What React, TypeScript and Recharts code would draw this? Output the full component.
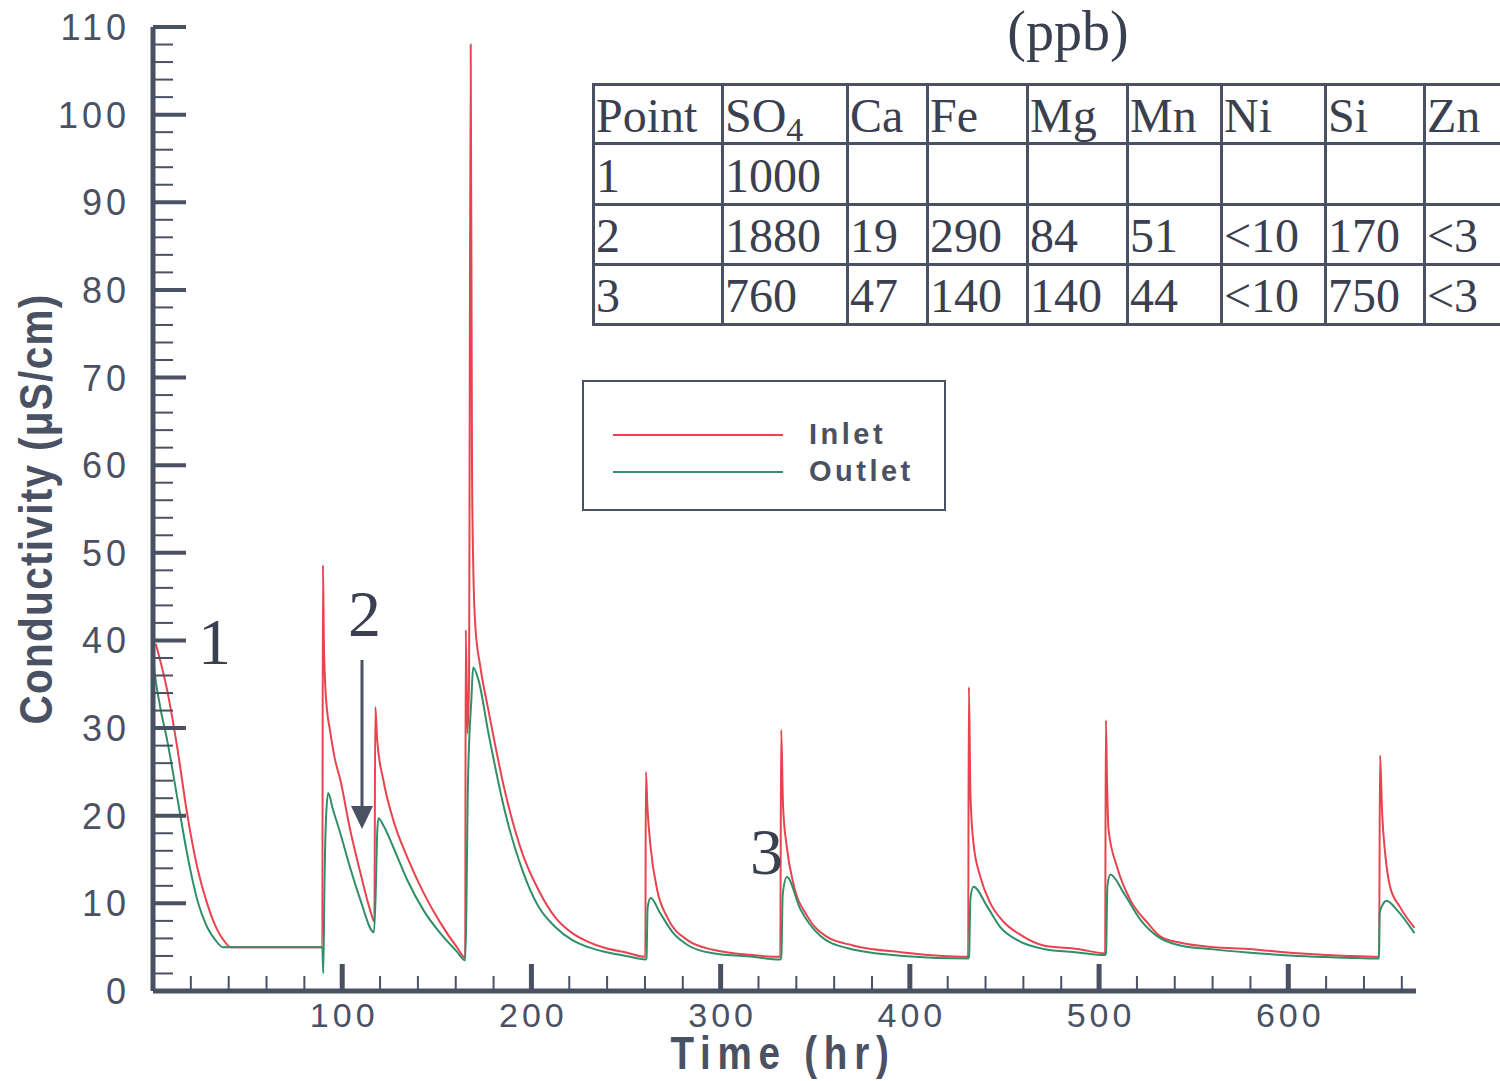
import React from "react";
import { LineChart, Line, XAxis, YAxis } from "recharts";

// Inlet conductivity (red) — time in hr, value in µS/cm
const inletTime = [
  1.5, 7.5, 12.8, 18, 23.4, 28.6, 33.9, 38, 41,
  89.5,
  89.8, 90.3, 91, 92, 93.5, 96, 99, 104, 109.6, 114.8, 117,
  117.5, 118.5, 121.7, 127, 134.3, 143, 151.8, 160.6, 165,
  165.3, 166.2, 167, 167.9, 168.6, 169.3, 170.4, 173, 177.3, 186.2, 195.2, 203.8, 212.6, 221.6, 230, 239, 250, 260.2,
  260.5, 261.3, 263, 266.5, 271.8, 282.5, 296, 317, 331.5,
  332, 333, 335, 338.5, 345.6, 356, 370, 396.5, 430.8,
  431.2, 432, 433.6, 437.3, 442.6, 449.5, 458.5, 470.6, 488.6, 503.2,
  503.6, 504.2, 505, 509.6, 516.5, 525.5, 532.5, 543, 560.5, 578.5, 605, 631, 648,
  648.5, 649.6, 651.2, 653.8, 659, 666.7,
];
const inletValue = [
  39.6, 34.3, 27.8, 20.3, 14.1, 10, 7, 5.6, 5.0,
  5.0,
  48.6, 40, 35, 32, 29.8, 26.6, 24.1, 18.6, 13.5, 9.2, 7.9,
  32.4, 28.6, 24.1, 19.5, 15.3, 11.2, 7.8, 5.0, 3.8,
  41.2, 29.4, 35, 108, 60, 48, 41.5, 37, 32, 22.6, 15.7, 11.5, 8.4, 6.6, 5.6, 4.9, 4.4, 3.9,
  25, 21, 16.4, 11.5, 8.4, 5.8, 4.7, 4.1, 3.9,
  29.8, 21, 16.4, 12.2, 8.6, 6.2, 5.2, 4.4, 3.9,
  34.7, 22.6, 16.9, 13, 10, 7.9, 6.4, 5.2, 4.8, 4.3,
  30.9, 24, 18.4, 14.1, 10.4, 7.8, 6.2, 5.5, 5.0, 4.8, 4.3, 4.0, 3.9,
  26.9, 20.3, 15.7, 11.9, 9.6, 7.2,
];

// Outlet conductivity (green)
const outletTime = [
  0.5, 1.2, 3.8, 7.5, 12.8, 18, 23.4, 28.6, 33, 37,
  89.5,
  90, 90.6, 91.5, 92.6, 95, 99, 104, 109.6, 116.8,
  117.8, 118.4, 119.1, 122, 127, 134.3, 143, 151.8, 160.6, 165,
  165.6, 166.3, 167.2, 168.2, 169.2, 172, 177.3, 186.2, 195.2, 203.8, 212.6, 221.6, 230, 239, 250, 260.3,
  260.8, 261.4, 263, 268, 275, 282.5, 296, 317, 331.6,
  332.1, 332.8, 335, 342, 352.6, 366.8, 396.5, 430.9,
  431.3, 432, 433.6, 441, 447.8, 456.8, 470.6, 488.6, 503.3,
  503.7, 504.4, 506, 513, 522, 532.5, 543, 560.5, 578.5, 605, 631, 648,
  648.3, 650, 652, 657.6, 666.7,
];
const outletValue = [
  37, 35.8, 32.4, 28.6, 22.1, 15.7, 10.4, 7.3, 5.8, 5.0,
  5.0,
  2.0, 12, 20, 22.6, 20.8, 18, 14.2, 10.4, 6.7,
  12, 17.5, 19.7, 18.8, 16.4, 12.7, 9.2, 6.6, 4.5, 3.5,
  9, 22, 29, 33, 36.9, 35.5, 29.4, 20.3, 13.8, 9.6, 7.3, 5.8, 5.0, 4.45, 4.0, 3.6,
  3.7, 9.5, 10.6, 8.9, 6.6, 5.25, 4.3, 3.9, 3.6,
  4, 11, 13.0, 9.4, 6.3, 4.9, 4.0, 3.7,
  4, 10.5, 11.9, 9.6, 7.3, 5.8, 4.8, 4.4, 4.1,
  4.5, 12, 13.3, 11.2, 8.1, 6.0, 5.2, 4.75, 4.4, 4.0, 3.8, 3.7,
  8.9, 9.9, 10.3, 9.2, 6.6,
];

const xTicks = [20, 40, 60, 80, 100, 120, 140, 160, 180, 200, 220, 240, 260, 280, 300, 320, 340, 360, 380, 400, 420, 440, 460, 480, 500, 520, 540, 560, 580, 600, 620, 640, 660];
const yTicks = [0, 2, 4, 6, 8, 10, 12, 14, 16, 18, 20, 22, 24, 26, 28, 30, 32, 34, 36, 38, 40, 42, 44, 46, 48, 50, 52, 54, 56, 58, 60, 62, 64, 66, 68, 70, 72, 74, 76, 78, 80, 82, 84, 86, 88, 90, 92, 94, 96, 98, 100, 102, 104, 106, 108, 110];

const seriesNames = ["Inlet", "Outlet"];

const tableHeader = ["Point", "SO4", "Ca", "Fe", "Mg", "Mn", "Ni", "Si", "Zn"];
const tableRows = [
  ["1", "1000", "", "", "", "", "", "", ""],
  ["2", "1880", "19", "290", "84", "51", "<10", "170", "<3"],
  ["3", "760", "47", "140", "140", "44", "<10", "750", "<3"],
];

const AXIS = "#4a5163";
const TEXT = "#3a4050";
const RED = "#e8434f";
const GREEN = "#2f9068";
const SANS = "'Liberation Sans', Arial, Helvetica, sans-serif";
const SERIF = "'Liberation Serif', 'Times New Roman', serif";

// table grid (pixel layout)
const TABLE_LEFT = 593;
const TABLE_TOP = 84;
const colWidths = [129, 125, 80, 100, 100, 94, 104, 99, 110];
const rowHeights = [59, 61, 60, 60];

const inletData = inletTime.map((t, i) => ({ t, v: inletValue[i] }));
const outletData = outletTime.map((t, i) => ({ t, v: outletValue[i] }));

const Y_LABEL_GAP = 23;

function YTick(props: any) {
  const { x, y, payload } = props;
  const v = payload.value;
  const major = v % 10 === 0;
  const x0 = x + Y_LABEL_GAP;
  return (
    <g>
      <line x1={x0} x2={x0 + (major ? 33 : 20)} y1={y} y2={y} stroke={AXIS} strokeWidth={major ? 4 : 2} />
      {major && (
        <text x={x} y={y + 13} textAnchor="end" fontFamily={SANS} fontSize={36} letterSpacing={4} fill={AXIS}>
          {v}
        </text>
      )}
    </g>
  );
}

function XTick(props: any) {
  const { x, y, payload } = props;
  const v = payload.value;
  const major = v % 100 === 0;
  return (
    <g>
      <line x1={x} x2={x} y1={y} y2={y - (major ? 27 : 15)} stroke={AXIS} strokeWidth={major ? 5 : 2} />
      {major && (
        <text x={x + 2} y={y + 36} textAnchor="middle" fontFamily={SANS} fontSize={34} letterSpacing={4} fill={AXIS}>
          {v}
        </text>
      )}
    </g>
  );
}

const colX = colWidths.reduce<number[]>((acc, w) => [...acc, acc[acc.length - 1] + w], [TABLE_LEFT]);
const rowY = rowHeights.reduce<number[]>((acc, h) => [...acc, acc[acc.length - 1] + h], [TABLE_TOP]);

export default function App() {
  const allRows = [tableHeader, ...tableRows];
  return (
    <div style={{ position: "absolute", left: 0, top: 0, width: 1500, height: 1081, background: "#fff", overflow: "hidden" }}>
      <LineChart width={1500} height={1081} margin={{ top: 27, right: 84, bottom: 40, left: 53 }}>
        <XAxis
          dataKey="t"
          type="number"
          domain={[0, 667.5]}
          allowDataOverflow
          ticks={xTicks}
          interval={0}
          tickSize={0}
          tickMargin={0}
          height={50}
          tick={<XTick />}
          tickLine={false}
          axisLine={{ stroke: AXIS, strokeWidth: 5 }}
        />
        <YAxis
          type="number"
          domain={[0, 110]}
          allowDataOverflow
          ticks={yTicks}
          interval={0}
          tickSize={0}
          tickMargin={Y_LABEL_GAP}
          width={100}
          tick={<YTick />}
          tickLine={false}
          axisLine={{ stroke: AXIS, strokeWidth: 5 }}
        />
        <Line data={inletData} dataKey="v" name={seriesNames[0]} type="monotone" stroke={RED} strokeWidth={2} dot={false} isAnimationActive={false} />
        <Line data={outletData} dataKey="v" name={seriesNames[1]} type="monotone" stroke={GREEN} strokeWidth={2} dot={false} isAnimationActive={false} />
      </LineChart>

      {/* axis titles and annotations */}
      <svg width={1500} height={1081} style={{ position: "absolute", left: 0, top: 0, pointerEvents: "none" }}>
        <text
          transform="translate(783,1069) scale(0.84,1)"
          textAnchor="middle"
          fontFamily={SANS}
          fontWeight="bold"
          fontSize={46}
          letterSpacing={8}
          fill={AXIS}
        >
          Time (hr)
        </text>
        <text
          transform="translate(52,509) rotate(-90) scale(0.88,1)"
          textAnchor="middle"
          fontFamily={SANS}
          fontWeight="bold"
          fontSize={46}
          letterSpacing={1.5}
          fill={AXIS}
        >
          Conductivity (μS/cm)
        </text>
        <text x={1068} y={50} textAnchor="middle" fontFamily={SERIF} fontSize={56} fill={TEXT}>
          (ppb)
        </text>
        <text x={198} y={664} fontFamily={SERIF} fontSize={66} fill={TEXT}>1</text>
        <text x={348} y={636} fontFamily={SERIF} fontSize={66} fill={TEXT}>2</text>
        <text x={750} y={874} fontFamily={SERIF} fontSize={66} fill={TEXT}>3</text>
        <line x1={362} x2={362} y1={660} y2={808} stroke={AXIS} strokeWidth={3} />
        <polygon points="351,806 373,806 362,829" fill={AXIS} />
      </svg>

      {/* legend */}
      <div style={{ position: "absolute", left: 582, top: 380, width: 360, height: 127, border: `2px solid ${AXIS}`, background: "#fff" }}>
        {seriesNames.map((name, i) => (
          <div key={name} style={{ position: "absolute", left: 0, top: 37 + i * 37, height: 30, width: 360 }}>
            <div style={{ position: "absolute", left: 29, top: 15, width: 170, height: 0, borderTop: `2px solid ${i === 0 ? RED : GREEN}` }} />
            <div style={{ position: "absolute", left: 225, top: 0, fontFamily: SANS, fontWeight: "bold", fontSize: 29, letterSpacing: 3.5, color: AXIS, lineHeight: "30px" }}>
              {name}
            </div>
          </div>
        ))}
      </div>

      {/* concentration table */}
      {allRows.map((row, r) =>
        row.map((cell, c) => (
          <div
            key={`${r}-${c}`}
            style={{
              position: "absolute",
              left: colX[c] + 3,
              top: rowY[r],
              width: colWidths[c] - 3,
              height: rowHeights[r],
              lineHeight: `${rowHeights[r] + 4}px`,
              fontFamily: SERIF,
              fontSize: 48,
              color: TEXT,
              whiteSpace: "nowrap",
            }}
          >
            {cell === "SO4" ? (
              <span>
                SO<span style={{ fontSize: 34, position: "relative", top: 9 }}>4</span>
              </span>
            ) : (
              cell
            )}
          </div>
        ))
      )}
      {rowY.map((y, i) => (
        <div key={`h${i}`} style={{ position: "absolute", left: TABLE_LEFT - 1, top: y - 1, width: 1500 - TABLE_LEFT + 1, height: 3, background: AXIS }} />
      ))}
      {colX.slice(0, colWidths.length).map((x, i) => (
        <div key={`v${i}`} style={{ position: "absolute", left: x - 1, top: TABLE_TOP - 1, width: 3, height: rowY[rowY.length - 1] - TABLE_TOP + 3, background: AXIS }} />
      ))}
    </div>
  );
}
